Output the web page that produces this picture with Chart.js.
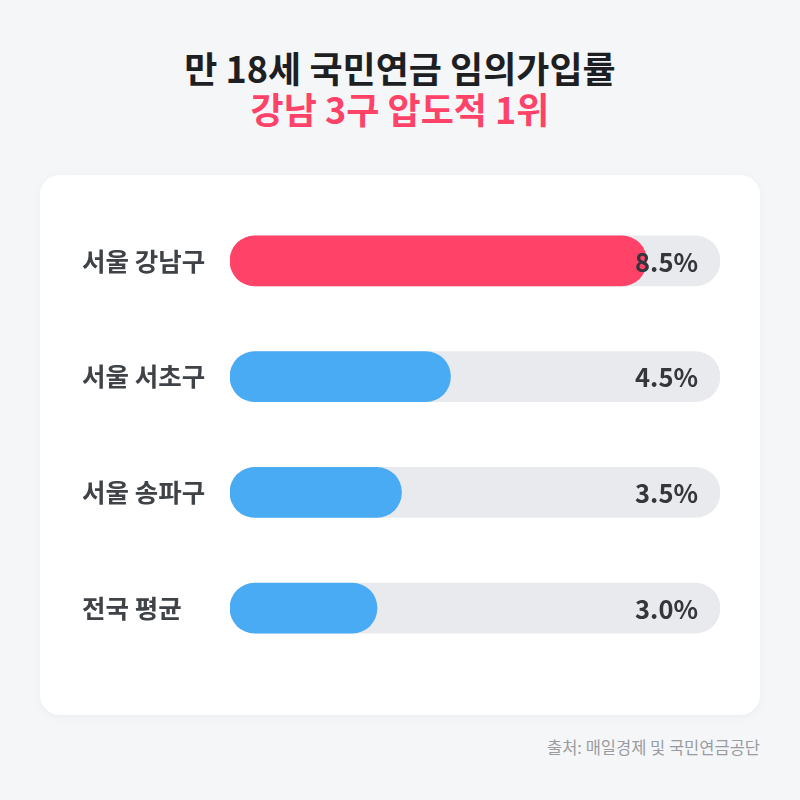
<!DOCTYPE html>
<html>
<head>
<meta charset="utf-8">
<script src="https://cdn.jsdelivr.net/npm/chart.js@4.4.0/dist/chart.umd.min.js"></script>
<style>
  html, body { margin: 0; padding: 0; }
  body {
    width: 800px; height: 800px; background: #f5f6f8; position: relative;
    font-family: "Noto Sans CJK KR", "Noto Sans", sans-serif; overflow: hidden;
  }
  .title { position: absolute; left: 0; width: 800px; text-align: center; font-weight: 700; font-size: 36px; line-height: 40px; }
  .t1 { top: 47px; color: #1e1f22; }
  .t2 { top: 88px; color: #ff4268; }
  .card {
    position: absolute; left: 40px; top: 175px; width: 720px; height: 540px;
    background: #fff; border-radius: 20px; box-shadow: 0 2px 10px rgba(0,0,0,0.04);
  }
  .card canvas { position: absolute; left: 0; top: 0; }
  .source { position: absolute; right: 40px; top: 735px; font-size: 16.5px; color: #9a9ca0; }
</style>
</head>
<body>
<div class="title t1">만 18세 국민연금 임의가입률</div>
<div class="title t2">강남 3구 압도적 1위</div>
<div class="card"><canvas id="myChart" width="720" height="540"></canvas></div>
<div class="source">출처: 매일경제 및 국민연금공단</div>
<script>
var categories = ['서울 강남구', '서울 서초구', '서울 송파구', '전국 평균']
var values = [8.5, 4.5, 3.5, 3.0]
var maxValue = 10
var barColors = ['#ff4268', '#4aabf5', '#4aabf5', '#4aabf5']

var track = categories.map(function() { return maxValue })

// value text at the right end of each grey track
var valueLabels = {
    id: 'valueLabels',
    afterDatasetsDraw: function(chart) {
        var ctx = chart.ctx
        var meta = chart.getDatasetMeta(0)
        ctx.save()
        ctx.font = '700 25.5px "Noto Sans CJK KR", sans-serif'
        ctx.fillStyle = '#33363b'
        ctx.textAlign = 'right'
        ctx.textBaseline = 'middle'
        meta.data.forEach(function(bar, i) {
            ctx.fillText(values[i].toFixed(1) + '%', bar.x - 22, bar.y + 1)
        })
        ctx.restore()
    }
}

var ctx = document.getElementById('myChart').getContext('2d')
var myChart = new Chart(ctx, {
    type: 'bar',
    data: {
        labels: categories,
        datasets: [{
            data: track,
            backgroundColor: '#e9eaee',
            borderRadius: 25,
            borderSkipped: false,
            barThickness: 50,
            grouped: false,
            order: 2
        }, {
            data: values,
            backgroundColor: barColors,
            borderRadius: 25,
            borderSkipped: false,
            barThickness: 50,
            grouped: false,
            order: 1
        }]
    },
    options: {
        indexAxis: 'y',
        responsive: false,
        animation: false,
        layout: { padding: { left: 42, right: 40, top: 28, bottom: 49 } },
        plugins: {
            legend: { display: false },
            tooltip: { enabled: false }
        },
        scales: {
            x: {
                min: 0,
                max: maxValue,
                display: false
            },
            y: {
                grid: { display: false },
                border: { display: false },
                afterFit: function(scale) { scale.width = 148 },
                ticks: {
                    crossAlign: 'far',
                    color: '#3f4246',
                    font: { family: '"Noto Sans CJK KR", sans-serif', size: 25.5, weight: '700' }
                }
            }
        }
    },
    plugins: [valueLabels]
})
</script>
</body>
</html>
